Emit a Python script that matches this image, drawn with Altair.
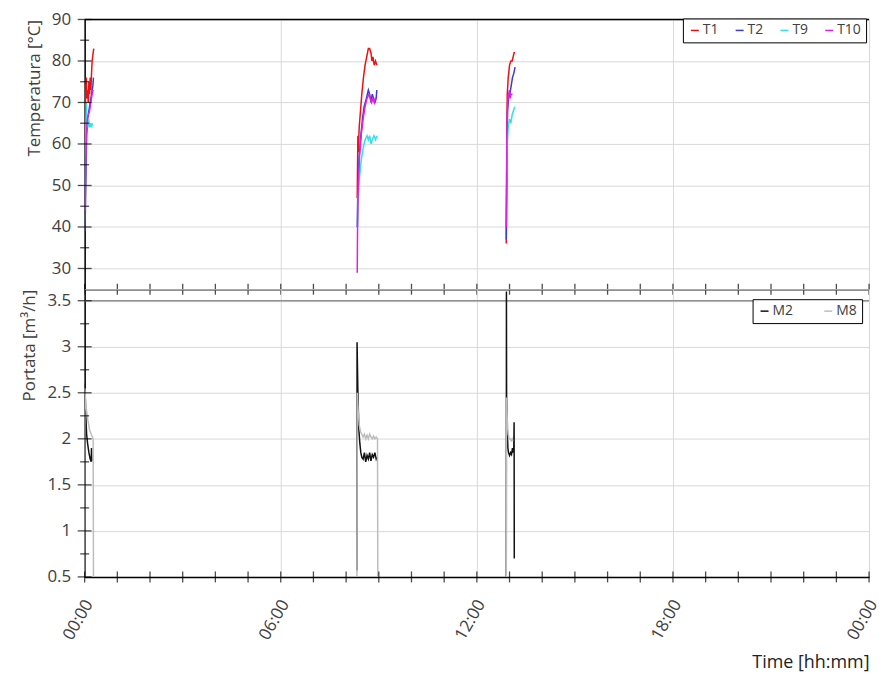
import altair as alt
import pandas as pd

FONT = "Open Sans"
TXT = "#404040"

HOURS_MAJOR = [0, 6, 12, 18, 24]
HOURS_MINOR = list(range(0, 25))
TEMP_MAJOR = [30, 40, 50, 60, 70, 80, 90]
TEMP_MINOR = [35, 45, 55, 65, 75, 85]
FLOW_MAJOR = [0.5, 1, 1.5, 2, 2.5, 3, 3.5]
FLOW_MINOR = [0.75, 1.25, 1.75, 2.25, 2.75, 3.25]

TEMP_SERIES = ["T1", "T2", "T9", "T10"]
TEMP_COLORS = ["#ee1111", "#3b3bd6", "#33e0e8", "#e020e0"]
FLOW_SERIES = ["M2", "M8"]
FLOW_COLORS = ["#111111", "#bdbdbd"]

# time in hours, value
T1 = [
    [(0.02, 69), (0.04, 74), (0.05, 76), (0.07, 71), (0.09, 73), (0.11, 70), (0.13, 75),
     (0.15, 72), (0.17, 76), (0.19, 73), (0.21, 77), (0.23, 80), (0.26, 82), (0.28, 83)],
    [(8.34, 47), (8.35, 55), (8.36, 62), (8.37, 58), (8.38, 60), (8.40, 64), (8.44, 68),
     (8.48, 72), (8.53, 76), (8.58, 79), (8.63, 81), (8.68, 83), (8.72, 83), (8.76, 82),
     (8.79, 80), (8.82, 81), (8.86, 79), (8.90, 80), (8.94, 79)],
    [(12.90, 36), (12.91, 50), (12.92, 65), (12.93, 72), (12.96, 76), (13.00, 79),
     (13.04, 80), (13.08, 80), (13.11, 81), (13.14, 82), (13.17, 82)],
]
T2 = [
    [(0.01, 39), (0.02, 43), (0.04, 52), (0.06, 62), (0.09, 66), (0.13, 68), (0.17, 70),
     (0.21, 72), (0.25, 74), (0.27, 76)],
    [(8.34, 40), (8.36, 50), (8.40, 57), (8.45, 62), (8.50, 66), (8.55, 69), (8.62, 71),
     (8.68, 73), (8.72, 72), (8.76, 70), (8.80, 72), (8.84, 71), (8.88, 70), (8.92, 71),
     (8.94, 73)],
    [(12.90, 37), (12.91, 46), (12.92, 58), (12.94, 68), (12.97, 71), (13.01, 72),
     (13.05, 74), (13.09, 76), (13.13, 77), (13.17, 78.5)],
]
T9 = [
    [(0.02, 50), (0.03, 58), (0.04, 66), (0.05, 70), (0.07, 66), (0.09, 64), (0.12, 66),
     (0.15, 64), (0.18, 65), (0.21, 64), (0.24, 65)],
    [(8.35, 40), (8.37, 47), (8.41, 52), (8.46, 56), (8.52, 59), (8.58, 61), (8.64, 62),
     (8.68, 61), (8.72, 62), (8.76, 60), (8.80, 61), (8.85, 62), (8.90, 61), (8.95, 62)],
    [(12.91, 52), (12.93, 60), (12.96, 64), (13.00, 66), (13.04, 65), (13.08, 67),
     (13.12, 68), (13.16, 69)],
]
T10 = [
    [(0.01, 44), (0.03, 55), (0.05, 62), (0.08, 66), (0.11, 67), (0.15, 68), (0.19, 70),
     (0.23, 72), (0.26, 73)],
    [(8.34, 29), (8.35, 40), (8.37, 50), (8.41, 57), (8.46, 62), (8.52, 66), (8.58, 69),
     (8.64, 71), (8.70, 72), (8.74, 71), (8.78, 70), (8.82, 71), (8.86, 70), (8.90, 71),
     (8.93, 71)],
    [(12.90, 40), (12.91, 52), (12.92, 62), (12.94, 70), (12.97, 72), (13.00, 73),
     (13.02, 71), (13.05, 72), (13.09, 72)],
]
M2 = [
    [(0.01, 2.6), (0.03, 2.3), (0.06, 2.05), (0.09, 1.95), (0.13, 1.85), (0.17, 1.78),
     (0.20, 1.75), (0.21, 1.9), (0.22, 1.76)],
    [(8.33, 0.57), (8.335, 3.05), (8.36, 2.5), (8.39, 2.1), (8.42, 1.95), (8.45, 1.85),
     (8.48, 1.8), (8.52, 1.78), (8.56, 1.85), (8.60, 1.75), (8.64, 1.82), (8.68, 1.78),
     (8.72, 1.85), (8.76, 1.76), (8.80, 1.83), (8.84, 1.8), (8.88, 1.85), (8.92, 1.78),
     (8.94, 1.8)],
    [(12.90, 0.5), (12.905, 3.6), (12.91, 2.46), (12.93, 2.1), (12.95, 1.9), (12.97, 1.85),
     (13.00, 1.82), (13.03, 1.85), (13.06, 1.83), (13.09, 1.9), (13.11, 1.85),
     (13.13, 1.9), (13.14, 2.18), (13.145, 0.7)],
]
M8 = [
    [(0.00, 0.5), (0.005, 2.55), (0.03, 2.4), (0.06, 2.3), (0.10, 2.2), (0.15, 2.1),
     (0.20, 2.05), (0.26, 2.0), (0.27, 0.5)],
    [(8.33, 0.5), (8.34, 2.5), (8.37, 2.3), (8.40, 2.15), (8.44, 2.08), (8.48, 2.05),
     (8.52, 2.02), (8.56, 2.05), (8.60, 2.0), (8.64, 2.04), (8.68, 2.0), (8.72, 2.05),
     (8.76, 2.02), (8.80, 2.0), (8.84, 2.03), (8.88, 2.0), (8.92, 2.02), (8.96, 2.0),
     (8.97, 0.5)],
    [(12.90, 0.5), (12.905, 2.45), (12.92, 2.3), (12.94, 2.15), (12.96, 2.05),
     (12.99, 2.0), (13.02, 2.0), (13.05, 1.98), (13.08, 2.0), (13.10, 1.98)],
]


def to_frame(named):
    rows = []
    order = 0
    for name, segs in named:
        for si, seg in enumerate(segs):
            for t, v in seg:
                rows.append({"series": name, "seg": f"{name}-{si}", "t": t, "v": v, "o": order})
                order += 1
    return pd.DataFrame(rows)


temp_df = to_frame([("T1", T1), ("T2", T2), ("T9", T9), ("T10", T10)])
flow_df = to_frame([("M2", M2), ("M8", M8)])

W = 788
H_TOP = 271
H_BOT = 289

hour_label = "(datum.value % 24 < 10 ? '0' : '') + (datum.value % 24) + ':00'"


def x_enc(show_labels):
    if show_labels:
        ax = alt.Axis(values=HOURS_MAJOR, ticks=False, grid=True, gridColor="#d9d9d9",
                      domainColor="black", domainWidth=1.5, labelExpr=hour_label,
                      labelAngle=300, labelAlign="right", labelBaseline="middle",
                      labelPadding=24, labelOffset=4, labelFont=FONT, labelFontSize=17,
                      labelColor=TXT, title="Time [hh:mm]", titleAnchor="end",
                      titleFont=FONT, titleFontSize=18, titleFontWeight="normal",
                      titleColor="#222", titlePadding=11)
    else:
        ax = alt.Axis(values=HOURS_MAJOR, ticks=False, labels=False, grid=True,
                      gridColor="#d9d9d9", domainColor="black", domainWidth=1.5, title=None)
    return alt.X("t:Q", scale=alt.Scale(domain=[0, 24], nice=False, zero=False), axis=ax)


def y_enc(domain, values, title, fmt):
    ax = alt.Axis(values=values, ticks=False, grid=True, gridColor="#d9d9d9",
                  domainColor="black", domainWidth=1.5, format=fmt, labelPadding=14,
                  labelFont=FONT, labelFontSize=17, labelColor=TXT, title=title,
                  titleAnchor="end", titleFont=FONT, titleFontSize=17,
                  titleFontWeight="normal", titleColor=TXT, titlePadding=8)
    return alt.Y("v:Q", scale=alt.Scale(domain=domain, nice=False, zero=False), axis=ax)


def panel(df, domain, values_major, values_minor, title, fmt, series, colors, legend_x,
          legend_y, col_pad, height, show_x_labels, top_rule=None, top_rule_color="black"):
    xe = x_enc(show_x_labels)
    ye = y_enc(domain, values_major, title, fmt)
    lines = alt.Chart(df).mark_line(strokeWidth=1.5, clip=True).encode(
        x=xe, y=ye,
        color=alt.Color("series:N", scale=alt.Scale(domain=series, range=colors),
                        legend=alt.Legend(title=None, orient="none", legendX=legend_x,
                                          legendY=legend_y, direction="horizontal",
                                          symbolType="stroke", symbolStrokeWidth=1.5,
                                          symbolSize=64, labelFont=FONT, labelFontSize=14,
                                          labelColor=TXT, labelOffset=1,
                                          columnPadding=col_pad, strokeColor="black",
                                          fillColor="white", padding=5)),
        detail="seg:N",
        order="o:Q",
    )
    ymaj = alt.Chart(pd.DataFrame({"v": values_major})).mark_tick(
        orient="horizontal", size=14, thickness=1.3, color="black").encode(
        y=ye, x=alt.value(0))
    ymin = alt.Chart(pd.DataFrame({"v": values_minor})).mark_tick(
        orient="horizontal", size=9, thickness=1.3, color="black").encode(
        y=ye, x=alt.value(0))
    xt = alt.Chart(pd.DataFrame({"t": HOURS_MINOR})).mark_tick(
        orient="vertical", size=11, thickness=1.3, color="black").encode(
        x=xe, y=alt.value(height))
    layers = [lines]
    if top_rule is not None:
        rule = alt.Chart(pd.DataFrame({"v": [top_rule]})).mark_rule(
            color=top_rule_color, strokeWidth=1.5).encode(y=ye)
        layers.insert(0, rule)
    layers += [ymaj, ymin, xt]
    return alt.layer(*layers).properties(width=W, height=height)


top = panel(temp_df, [25, 90], TEMP_MAJOR, TEMP_MINOR, "Temperatura [°C]", "d",
            TEMP_SERIES, TEMP_COLORS, 601, -1, 14, H_TOP, False, top_rule=90)
bottom = panel(flow_df, [0.5, 3.625], FLOW_MAJOR, FLOW_MINOR, "Portata [m³/h]", "~g",
               FLOW_SERIES, FLOW_COLORS, 671, 10, 28, H_BOT, True, top_rule=3.5,
               top_rule_color="#909090")

chart = alt.vconcat(top, bottom, spacing=0, bounds="flush").resolve_scale(
    color="independent").properties(
    padding={"left": 12, "top": 0, "right": 0, "bottom": 0}
).configure_view(stroke=None).configure(background="white")

chart.save("out.html", embed_options={"renderer": "svg", "actions": False})
